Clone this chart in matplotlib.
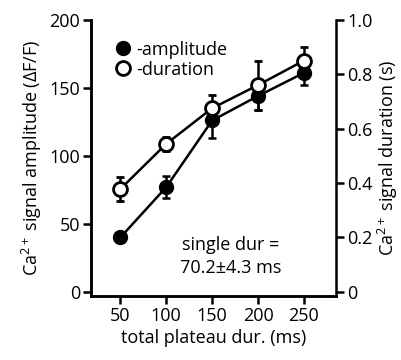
import matplotlib
matplotlib.use("Agg")
import matplotlib.pyplot as plt

plt.rcParams['font.family'] = ['Open Sans', 'DejaVu Sans']
plt.rcParams['mathtext.fontset'] = 'custom'
plt.rcParams['mathtext.rm'] = 'Open Sans'
plt.rcParams['mathtext.it'] = 'Open Sans'

# data
plateau_dur = [50, 100, 150, 200, 250]
amplitude = [40, 77, 126, 144, 161]
amplitude_err = [3, 8, 13, 10, 9]
duration = [0.378, 0.544, 0.675, 0.76, 0.85]
duration_err = [0.044, 0.025, 0.05, 0.09, 0.05]

fig = plt.figure(figsize=(4.01, 3.6), dpi=100)
ax = fig.add_axes([0.227, 0.178, 0.611, 0.767])
ax2 = ax.twinx()

lw = 1.8
ax.errorbar(plateau_dur, amplitude, yerr=amplitude_err, color='black', lw=lw,
            marker='o', ms=10, mfc='black', mec='black', capsize=3, elinewidth=lw,
            capthick=lw, zorder=3, label='-amplitude')
ax2.errorbar(plateau_dur, duration, yerr=duration_err, color='black', lw=lw,
             marker='o', ms=10, mfc='white', mec='black', mew=2, capsize=3,
             elinewidth=lw, capthick=lw, zorder=3, label='-duration')

ax.set_xlim(18, 285)
ax.set_ylim(-3, 200)
ax2.set_ylim(-0.015, 1.0)

ax.set_xticks(plateau_dur)
ax.set_yticks([0, 50, 100, 150, 200])
ax2.set_yticks([0, 0.2, 0.4, 0.6, 0.8, 1.0])
ax2.set_yticklabels(['0', '0.2', '0.4', '0.6', '0.8', '1.0'])

for a in (ax, ax2):
    a.spines['top'].set_visible(False)
    for s in a.spines.values():
        s.set_linewidth(1.8)
    a.tick_params(direction='out', length=6, width=1.8, labelsize=13, pad=2)
ax.spines['right'].set_visible(False)

ax.set_xlabel('total plateau dur. (ms)', fontsize=13, labelpad=3)
ax.set_ylabel('Ca$^{2+}$ signal amplitude (ΔF/F)', fontsize=13, labelpad=4)
ax2.set_ylabel('Ca$^{2+}$ signal duration (s)', fontsize=13, labelpad=2)

ax.text(170, 26, 'single dur =\n70.2±4.3 ms', fontsize=13, ha='center', va='center',
        linespacing=1.4)

# legend, markers only
h1, l1 = ax.get_legend_handles_labels()
h2, l2 = ax2.get_legend_handles_labels()
leg = ax2.legend([h[0] for h in h1 + h2], l1 + l2, loc='upper left', frameon=False,
                 fontsize=13, handlelength=0.8, handletextpad=0.3, labelspacing=0.1,
                 borderaxespad=0.3, bbox_to_anchor=(0.05, 0.97))
for line in leg.get_lines():
    line.set_linestyle('none')

fig.savefig('out.png', dpi=100)
